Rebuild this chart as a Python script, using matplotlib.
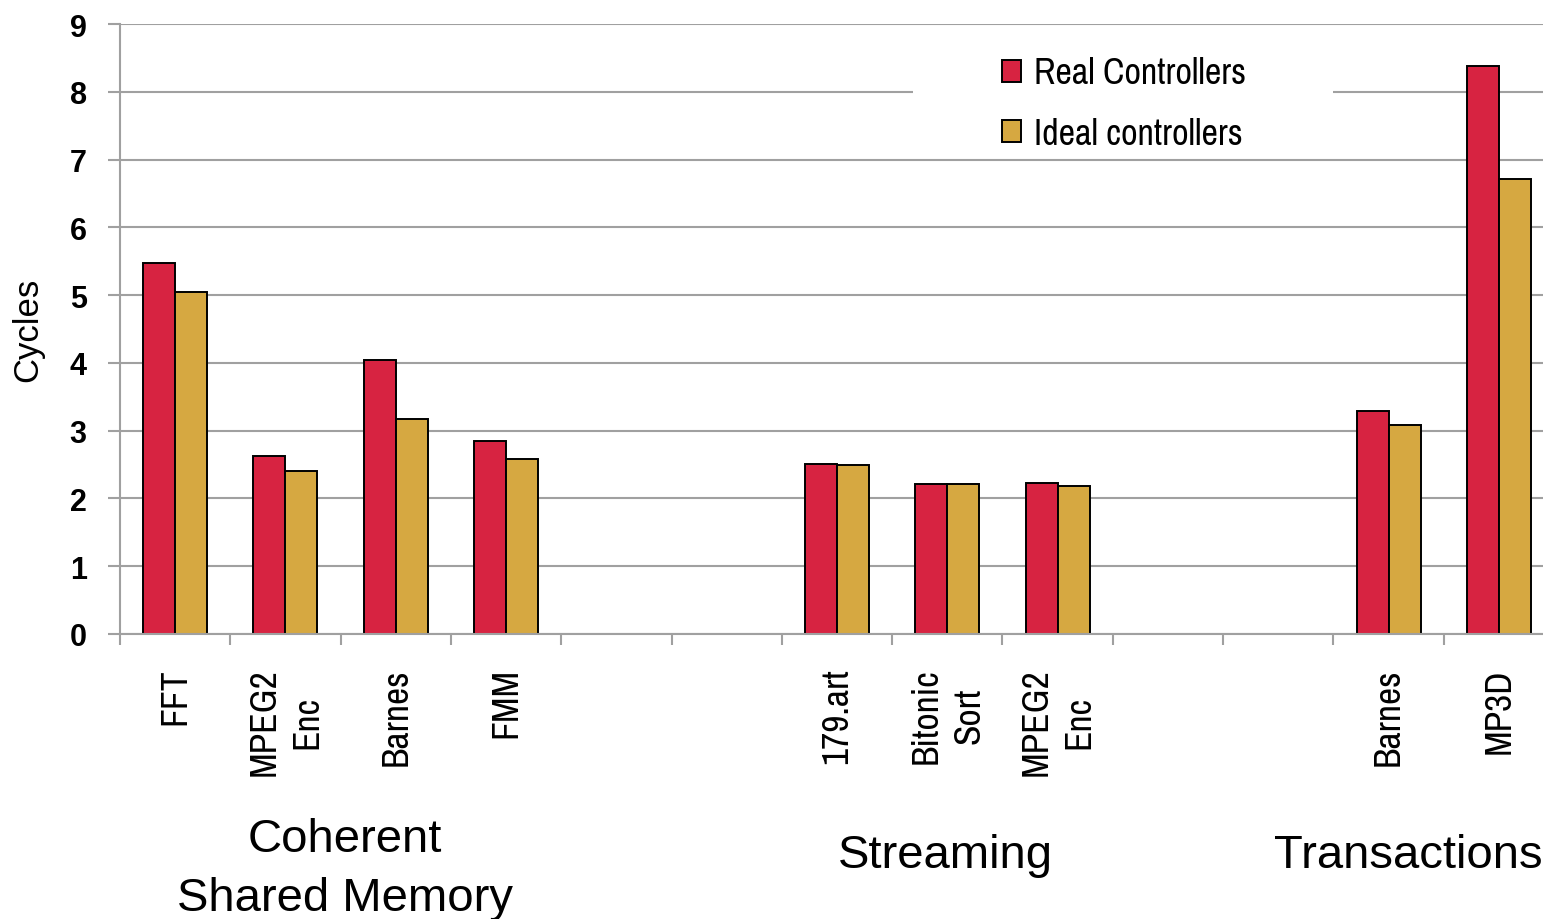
import numpy as np
import matplotlib.pyplot as plt
from matplotlib.patches import Rectangle
from matplotlib import font_manager

# narrow sans similar to Arial Narrow used in the original
installed = {f.name for f in font_manager.fontManager.ttflist}
narrow = 'DejaVu Sans'
for cand in ['Liberation Sans Narrow', 'Archivo Narrow', 'Roboto Condensed', 'PT Sans Narrow']:
    if cand in installed:
        narrow = cand
        break
regular = 'Liberation Sans'

# Data
categories = ['FFT', 'MPEG2\nEnc', 'Barnes', 'FMM', '', '',
              '179.art', 'Bitonic\nSort', 'MPEG2\nEnc', '', '',
              'Barnes', 'MP3D']
real = [5.47, 2.63, 4.04, 2.85, np.nan, np.nan,
        2.51, 2.21, 2.23, np.nan, np.nan, 3.29, 8.38]
ideal = [5.05, 2.40, 3.17, 2.58, np.nan, np.nan,
         2.49, 2.21, 2.18, np.nan, np.nan, 3.08, 6.71]
groups = ['Coherent\nShared Memory', 'Streaming', 'Transactions']

red = '#D72341'
gold = '#D6A841'
grid_gray = '#A0A0A0'

fig = plt.figure(figsize=(15.43, 9.2), dpi=100)
ax = fig.add_axes([120 / 1543, 1 - 635 / 920, 1 - 120 / 1543, (635 - 25) / 920])

x = np.arange(len(categories))
w = 0.29
ax.bar(x - w / 2, real, w, color=red, edgecolor='black', linewidth=1.4,
       label='Real Controllers', zorder=2)
ax.bar(x + w / 2, ideal, w, color=gold, edgecolor='black', linewidth=1.4,
       label='Ideal controllers', zorder=2)

ax.set_ylim(0, 9)
ax.set_xlim(-0.5, 12.40)
ax.set_yticks(range(10))
ax.set_yticklabels([str(i) for i in range(10)], fontfamily=regular,
                   fontweight='bold', fontsize=22)
ax.yaxis.grid(True, color=grid_gray, linewidth=1.5, zorder=0)
ax.set_axisbelow(True)

# major ticks at category boundaries, labels at centres
ax.set_xticks(np.arange(-0.5, 12.5, 1.0))
ax.set_xticklabels([])
ax.set_xticks(x, minor=True)
ax.set_xticklabels(categories, minor=True, rotation=90, fontfamily=narrow,
                   fontsize=27, va='top', ha='center', multialignment='center',
                   linespacing=1.35)
ax.tick_params(axis='x', which='major', length=8, width=1.5, color=grid_gray,
               direction='out')
ax.tick_params(axis='x', which='minor', length=0, pad=24)
ax.tick_params(axis='y', length=9, width=1.5, color=grid_gray, pad=15)

for s in ['top', 'right']:
    ax.spines[s].set_visible(False)
for s in ['left', 'bottom']:
    ax.spines[s].set_color(grid_gray)
    ax.spines[s].set_linewidth(1.5)

ax.set_ylabel('Cycles', fontfamily=regular, fontsize=25, labelpad=18)

# white block behind the legend
fig.add_artist(Rectangle((913 / 1543, 1 - 150 / 920), 420 / 1543, 110 / 920,
                         transform=fig.transFigure, facecolor='white',
                         edgecolor='none', zorder=1))

leg = fig.legend(loc='center left', bbox_to_anchor=(969 / 1543, 1 - 104 / 920),
                 frameon=False, prop={'family': narrow, 'size': 26},
                 handlelength=0.55, handleheight=0.55, handletextpad=0.35,
                 labelspacing=0.75)
leg.set_zorder(3)

# group labels under the categories
fig.text(345 / 1543, 1 - 911 / 920, groups[0], ha='center', va='baseline',
         fontfamily=regular, fontsize=34, linespacing=1.45)
fig.text(945 / 1543, 1 - 868 / 920, groups[1], ha='center', va='baseline',
         fontfamily=regular, fontsize=34)
fig.text(1408 / 1543, 1 - 868 / 920, groups[2], ha='center', va='baseline',
         fontfamily=regular, fontsize=34)

fig.savefig('out.png', dpi=100)
